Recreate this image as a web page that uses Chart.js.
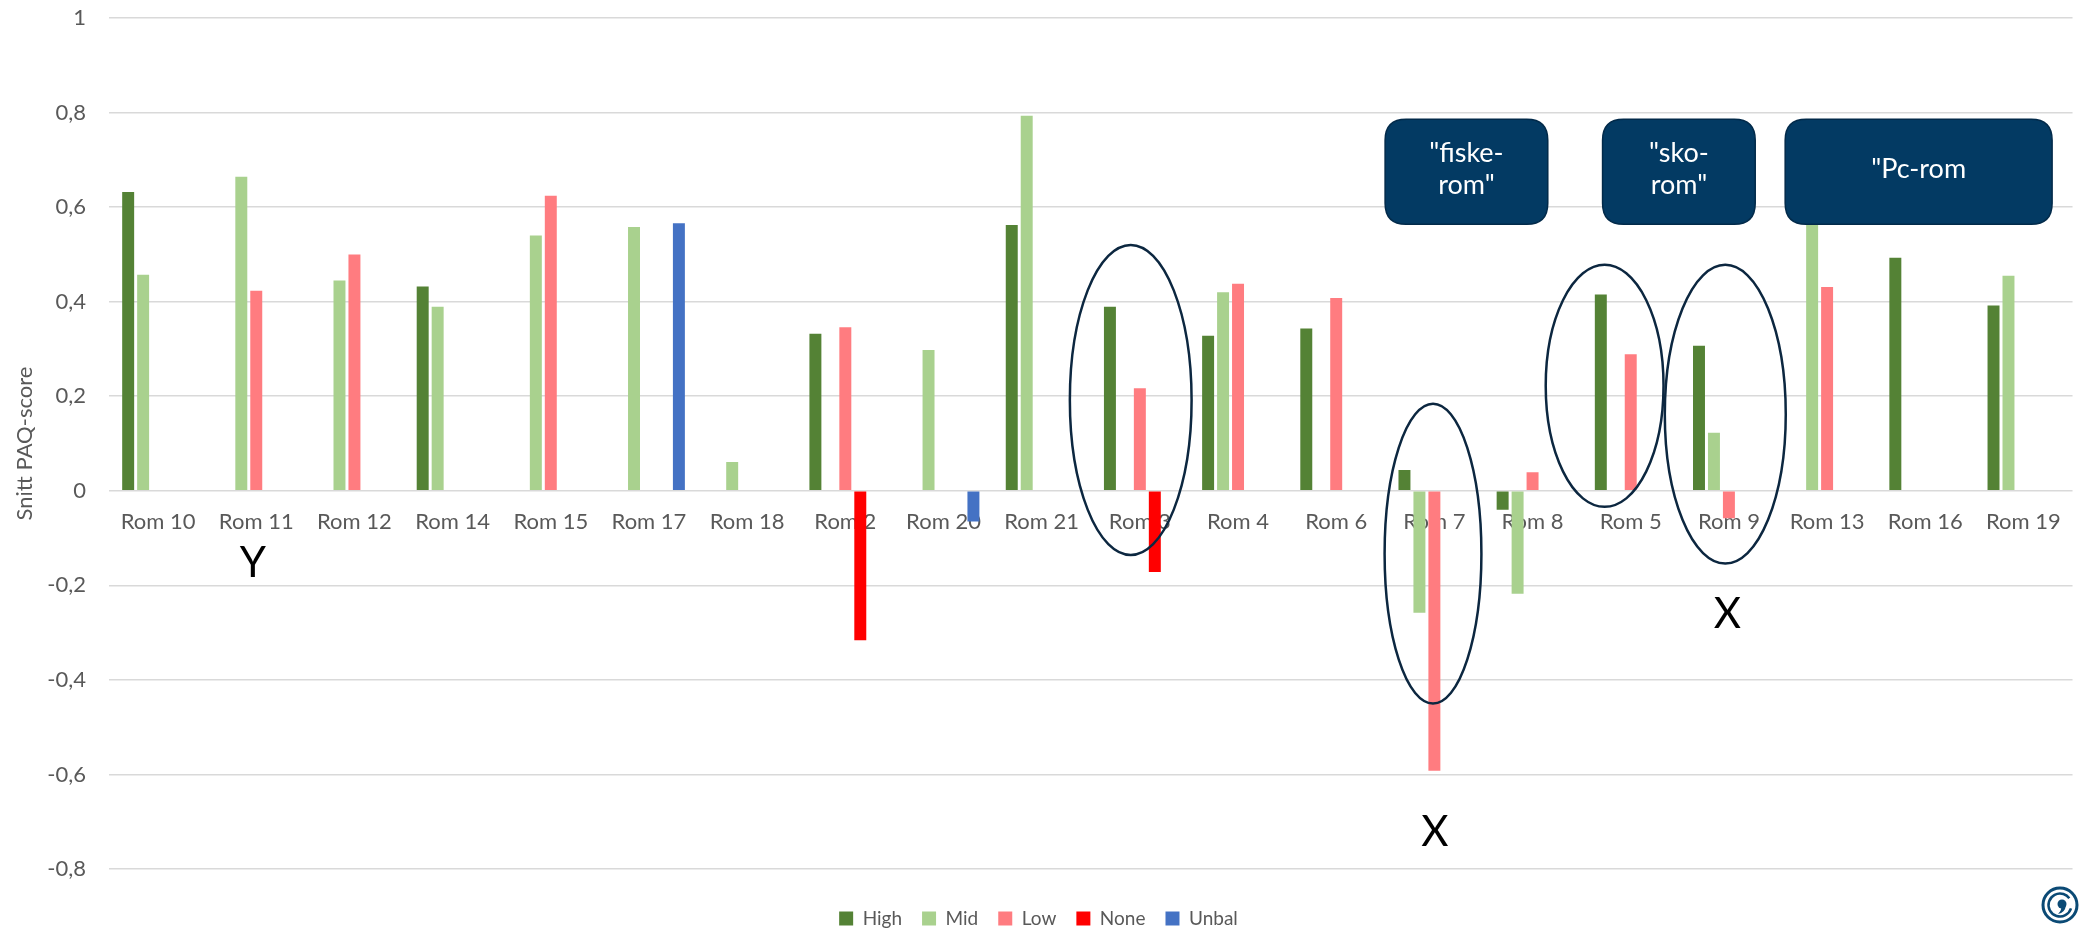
<!DOCTYPE html>
<html><head><meta charset="utf-8">
<script src="https://cdn.jsdelivr.net/npm/chart.js@4/dist/chart.umd.min.js"></script>
<style>html,body{margin:0;padding:0;background:#fff}#wrap{width:2079px;height:933px;position:relative}</style>
</head><body><div id="wrap"><canvas id="c" width="2079" height="933"></canvas></div>
<script>
const categories = ['Rom 10','Rom 11','Rom 12','Rom 14','Rom 15','Rom 17','Rom 18','Rom 2','Rom 20','Rom 21','Rom 3','Rom 4','Rom 6','Rom 7','Rom 8','Rom 5','Rom 9','Rom 13','Rom 16','Rom 19'];
const seriesNames = ['High','Mid','Low','None','Unbal'];
const high  = [0.632, null, null, 0.432, null, null, null, 0.332, null, 0.562, 0.389, 0.328, 0.343, 0.044, -0.040, 0.415, 0.307, null, 0.493, 0.392];
const mid   = [0.457, 0.664, 0.445, 0.389, 0.540, 0.558, 0.061, null, 0.298, 0.793, null, 0.420, null, -0.258, -0.218, null, 0.123, 0.620, null, 0.455];
const low   = [null, 0.423, 0.500, null, 0.624, null, null, 0.346, null, null, 0.217, 0.438, 0.408, -0.592, 0.039, 0.289, -0.058, 0.431, null, null];
const none  = [null, null, null, null, null, null, null, -0.316, null, null, -0.172, null, null, null, null, null, null, null, null, null];
const unbal = [null, null, null, null, null, 0.566, null, null, -0.065, null, null, null, null, null, null, null, null, null, null, null];
const yAxisTitle = 'Snitt PAQ-score';

// annotation shapes (placed in data units: category index / value)
const ellipses = [
  {cx: 9.907, cy: 0.192, rx: 0.62, ry: 0.328},
  {cx: 12.986, cy: -0.133, rx: 0.493, ry: 0.317},
  {cx: 14.734, cy: 0.222, rx: 0.60, ry: 0.256},
  {cx: 15.963, cy: 0.162, rx: 0.616, ry: 0.316}
];
const boxes = [
  {x0: 12.498, x1: 14.155, y0: 0.786, y1: 0.564, lines: ['"fiske-','rom"']},
  {x0: 14.713, x1: 16.268, y0: 0.786, y1: 0.564, lines: ['"sko-','rom"']},
  {x0: 16.573, x1: 19.292, y0: 0.786, y1: 0.564, lines: ['"Pc-rom']}
];
const letters = [
  {x: 0.966, y: -0.153, t: 'Y'},
  {x: 15.984, y: -0.262, t: 'X'},
  {x: 13.006, y: -0.723, t: 'X'}
];

const colors = ['#548235','#A9D18E','#FF7C80','#FF0000','#4472C4'];
const values = [high, mid, low, none, unbal];

const FONT = 'Lato, "Open Sans", sans-serif';

function rr(ctx, x, y, w, h, r) {
  ctx.beginPath();
  ctx.moveTo(x + r, y);
  ctx.lineTo(x + w - r, y);
  ctx.quadraticCurveTo(x + w, y, x + w, y + r);
  ctx.lineTo(x + w, y + h - r);
  ctx.quadraticCurveTo(x + w, y + h, x + w - r, y + h);
  ctx.lineTo(x + r, y + h);
  ctx.quadraticCurveTo(x, y + h, x, y + h - r);
  ctx.lineTo(x, y + r);
  ctx.quadraticCurveTo(x, y, x + r, y);
  ctx.closePath();
}

const overlay = {
  id: 'overlay',
  afterDatasetsDraw(chart) {
    const ctx = chart.ctx, xs = chart.scales.x, ys = chart.scales.y;
    const catW = xs.getPixelForValue(1) - xs.getPixelForValue(0);
    const unitY = ys.getPixelForValue(0) - ys.getPixelForValue(1);
    ctx.save();
    ctx.strokeStyle = '#0C2740';
    ctx.lineWidth = 2.5;
    ellipses.forEach(e => {
      ctx.beginPath();
      ctx.ellipse(xs.getPixelForValue(e.cx), ys.getPixelForValue(e.cy), e.rx * catW, e.ry * unitY, 0, 0, Math.PI * 2);
      ctx.stroke();
    });
    boxes.forEach(b => {
      const x0 = xs.getPixelForValue(b.x0), x1 = xs.getPixelForValue(b.x1);
      const y0 = ys.getPixelForValue(b.y0), y1 = ys.getPixelForValue(b.y1);
      rr(ctx, x0, y0, x1 - x0, y1 - y0, 21);
      ctx.fillStyle = '#033A63';
      ctx.fill();
      ctx.strokeStyle = '#022A4A';
      ctx.lineWidth = 1.5;
      ctx.stroke();
      ctx.fillStyle = '#FFFFFF';
      ctx.font = '27px ' + FONT;
      ctx.textAlign = 'center';
      ctx.textBaseline = 'middle';
      const cx = (x0 + x1) / 2, cy = (y0 + y1) / 2;
      const lh = 32;
      b.lines.forEach((t, i) => {
        ctx.fillText(t, cx, cy - 2 + (i - (b.lines.length - 1) / 2) * lh);
      });
    });
    ctx.fillStyle = '#000000';
    ctx.font = '42px ' + FONT;
    ctx.textAlign = 'center';
    ctx.textBaseline = 'middle';
    letters.forEach(l => ctx.fillText(l.t, xs.getPixelForValue(l.x), ys.getPixelForValue(l.y)));
    // y-axis title, centred on the plot area
    ctx.save();
    ctx.translate(25, (chart.chartArea.top + chart.chartArea.bottom) / 2);
    ctx.rotate(-Math.PI / 2);
    ctx.fillStyle = '#595959';
    ctx.font = '22px ' + FONT;
    ctx.fillText(yAxisTitle, 0, 0);
    ctx.restore();
    // logo
    const lx = 2060, ly = 905;
    ctx.strokeStyle = '#0B4A75';
    ctx.lineWidth = 3;
    ctx.beginPath(); ctx.arc(lx, ly, 17, 0, Math.PI * 2); ctx.stroke();
    ctx.lineWidth = 2.5;
    ctx.beginPath(); ctx.arc(lx, ly, 11.5, 0.3, Math.PI * 1.8); ctx.stroke();
    ctx.fillStyle = '#0B4A75';
    ctx.beginPath(); ctx.arc(lx + 2, ly - 1, 4.5, 0, Math.PI * 2); ctx.fill();
    ctx.beginPath(); ctx.moveTo(lx + 6, ly); ctx.quadraticCurveTo(lx + 5, ly + 8, lx - 2, ly + 9); ctx.quadraticCurveTo(lx + 2, ly + 5, lx + 1, ly + 2); ctx.fill();
    ctx.restore();
  }
};

const chart = new Chart(document.getElementById('c'), {
  type: 'bar',
  data: {
    labels: categories,
    datasets: seriesNames.map((n, i) => ({
      label: n,
      data: values[i],
      backgroundColor: colors[i],
      borderWidth: 0,
      categoryPercentage: 0.762,
      barPercentage: 0.8
    }))
  },
  options: {
    responsive: false,
    animation: false,
    devicePixelRatio: 1,
    layout: {padding: {top: 18, right: 2, left: 0, bottom: -5}},
    plugins: {
      legend: {
        position: 'bottom',
        labels: {boxWidth: 14, boxHeight: 14, padding: 20, color: '#595959', font: {family: FONT, size: 19}}
      },
      tooltip: {enabled: false}
    },
    scales: {
      x: {
        type: 'category',
        position: {y: 0},
        grid: {display: false, drawTicks: false},
        border: {display: false},
        ticks: {autoSkip: false, maxRotation: 0, padding: 18, color: '#595959', font: {family: FONT, size: 22}}
      },
      gap: {
        type: 'category',
        position: 'bottom',
        grid: {display: false, drawTicks: false},
        border: {display: false},
        ticks: {display: false},
        afterFit(s) { s.height = 20; }
      },
      y: {
        min: -0.8, max: 1,
        grid: {color: '#D9D9D9', lineWidth: 1.5, drawTicks: true, tickLength: 23, tickColor: 'rgba(0,0,0,0)'},
        border: {display: false},
        ticks: {
          stepSize: 0.2, padding: 0, color: '#595959', font: {family: FONT, size: 22},
          callback: v => { const r = Math.round(v * 10) / 10; return String(r).replace('.', ','); }
        },
        afterFit(s) { s.width = 109; }
      }
    }
  },
  plugins: [overlay]
});
</script>
</body></html>
